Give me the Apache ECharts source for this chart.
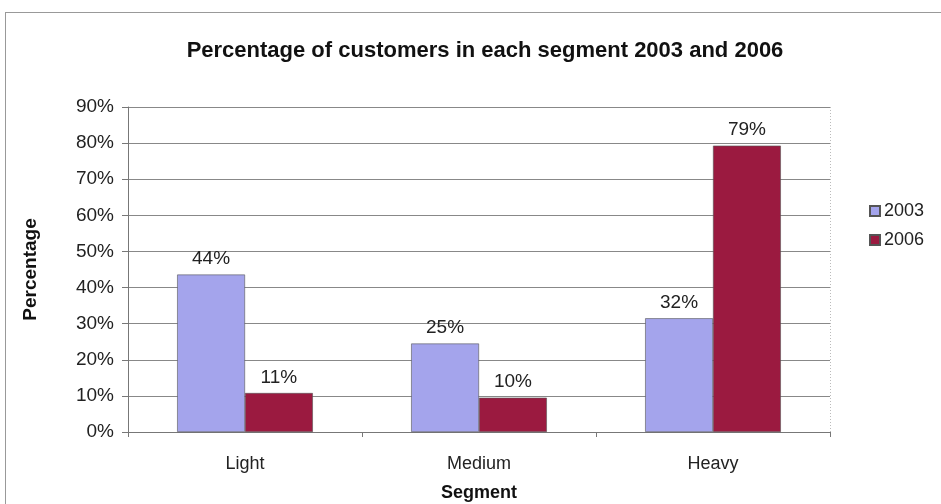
<!DOCTYPE html>
<html>
<head>
<meta charset="utf-8">
<script src="https://cdn.jsdelivr.net/npm/echarts@6/dist/echarts.min.js"></script>
<style>
  * { margin: 0; padding: 0; }
  html, body { width: 941px; height: 504px; background: #fff; }
  #chart { width: 941px; height: 504px; }
</style>
</head>
<body>
<div id="chart"></div>
<script>
// chart data
var segments = ['Light', 'Medium', 'Heavy']
var years = ['2003', '2006']
var values2003 = [43.6, 24.5, 31.5]
var values2006 = [10.8, 9.5, 79.3]
var yTicks = [0, 10, 20, 30, 40, 50, 60, 70, 80, 90]

var font = '"Liberation Sans", Arial, sans-serif'
var chart = echarts.init(document.getElementById('chart'))

function barSeries (name, data, color) {
  return {
    name: name,
    type: 'bar',
    data: data,
    barGap: '0%',
    barCategoryGap: '42%',
    itemStyle: { color: color, borderColor: '#555', borderWidth: 0.6 },
    label: {
      show: true,
      position: 'top',
      distance: 6,
      fontFamily: font,
      fontSize: 19,
      color: '#222',
      formatter: function (p) { return Math.round(p.value) + '%' }
    }
  }
}

var option = {
  backgroundColor: '#fff',
  animation: false,
  textStyle: { fontFamily: font },
  title: {
    text: 'Percentage of customers in each segment 2003 and 2006',
    left: 480,
    top: 35,
    textAlign: 'center',
    textStyle: { fontFamily: font, fontSize: 22, fontWeight: 'bold', color: '#111' }
  },
  legend: {
    orient: 'vertical',
    left: 864,
    top: 197,
    itemWidth: 10,
    itemHeight: 10,
    itemGap: 11,
    icon: 'rect',
    data: years,
    textStyle: { fontFamily: font, fontSize: 18, color: '#222', padding: [0, 0, 0, -1] }
  },
  grid: { left: 128, right: 111, top: 107, bottom: 72, outerBoundsMode: 'none' },
  xAxis: {
    type: 'category',
    data: segments,
    name: 'Segment',
    nameLocation: 'middle',
    nameGap: 52,
    nameTextStyle: { fontFamily: font, fontSize: 18, fontWeight: 'bold', color: '#111' },
    axisLine: { lineStyle: { color: '#777', width: 1 } },
    axisTick: { show: true, length: 5, inside: false, lineStyle: { color: '#777' } },
    axisLabel: { fontFamily: font, fontSize: 18, color: '#222', margin: 23 },
    splitLine: { show: false }
  },
  yAxis: {
    type: 'value',
    min: yTicks[0],
    max: yTicks[yTicks.length - 1],
    interval: 10,
    name: 'Percentage',
    nameLocation: 'middle',
    nameGap: 88,
    nameRotate: 90,
    nameTextStyle: { fontFamily: font, fontSize: 19, fontWeight: 'bold', color: '#111' },
    axisLine: { show: true, lineStyle: { color: '#777', width: 1 } },
    axisTick: { show: true, length: 6, lineStyle: { color: '#777' } },
    axisLabel: {
      fontFamily: font,
      fontSize: 19,
      color: '#222',
      margin: 14,
      formatter: function (v) { return v + '%' }
    },
    splitLine: { show: true, lineStyle: { color: '#888', width: 1 } }
  },
  graphic: [
    // outer frame of the chart area
    { type: 'line', shape: { x1: 5, y1: 12.5, x2: 941, y2: 12.5 }, style: { stroke: '#999', lineWidth: 1 } },
    { type: 'line', shape: { x1: 5.5, y1: 12, x2: 5.5, y2: 504 }, style: { stroke: '#999', lineWidth: 1 } },
    // dotted right edge of the plot area
    { type: 'line', shape: { x1: 830.5, y1: 107, x2: 830.5, y2: 432 }, style: { stroke: '#bbb', lineWidth: 1, lineDash: [1, 2] } }
  ],
  series: [
    barSeries(years[0], values2003, '#a4a4ec'),
    barSeries(years[1], values2006, '#9b1a40')
  ]
}

chart.setOption(option)
</script>
</body>
</html>
